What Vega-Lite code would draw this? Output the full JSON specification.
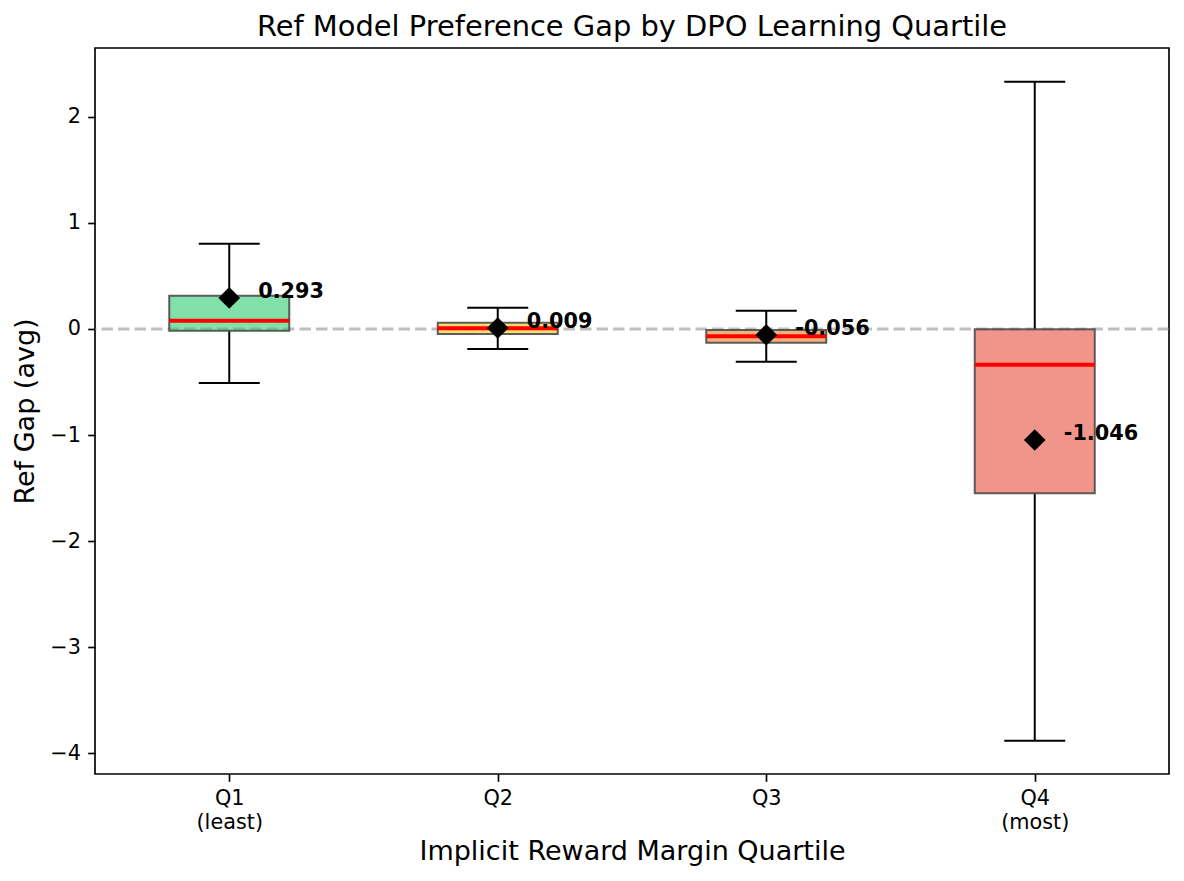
{
  "$schema": "https://vega.github.io/schema/vega-lite/v6.json",
  "autosize": {"type": "none"},
  "padding": {"left": 95, "top": 48, "right": 15, "bottom": 107},
  "width": 1074,
  "height": 726,
  "title": {
    "text": "Ref Model Preference Gap by DPO Learning Quartile",
    "fontSize": 28.9,
    "fontWeight": "normal",
    "color": "black",
    "anchor": "middle",
    "offset": 6
  },
  "data": {
    "values": [
      {"quartile": 1, "name": "Q1", "lo": -0.509, "q1": -0.017, "med": 0.078, "q3": 0.313, "hi": 0.804, "mean": 0.293, "meanLabel": "0.293"},
      {"quartile": 2, "name": "Q2", "lo": -0.189, "q1": -0.047, "med": 0.007, "q3": 0.059, "hi": 0.2, "mean": 0.009, "meanLabel": "0.009"},
      {"quartile": 3, "name": "Q3", "lo": -0.308, "q1": -0.129, "med": -0.069, "q3": -0.009, "hi": 0.172, "mean": -0.056, "meanLabel": "-0.056"},
      {"quartile": 4, "name": "Q4", "lo": -3.88, "q1": -1.549, "med": -0.336, "q3": -0.003, "hi": 2.33, "mean": -1.046, "meanLabel": "-1.046"}
    ]
  },
  "encoding": {
    "x": {
      "field": "quartile",
      "type": "quantitative",
      "scale": {"domain": [0.5, 4.5], "nice": false, "zero": false, "padding": 0},
      "axis": {
        "title": "Implicit Reward Margin Quartile",
        "values": [1, 2, 3, 4],
        "labelExpr": "datum.value == 1 ? ['Q1', '(least)'] : datum.value == 4 ? ['Q4', '(most)'] : 'Q' + datum.value",
        "labelLineHeight": 24,
        "labelBaseline": "top",
        "labelPadding": 7,
        "titlePadding": 6
      }
    }
  },
  "layer": [
    {
      "data": {"values": [{"ref": 0}]},
      "mark": {"type": "rule", "color": "gray", "opacity": 0.5, "strokeWidth": 3, "strokeDash": [11.5, 5]},
      "encoding": {
        "x": null,
        "y": {"field": "ref", "type": "quantitative"}
      }
    },
    {
      "mark": {"type": "rule", "color": "black", "strokeWidth": 2},
      "encoding": {
        "y": {
          "field": "lo",
          "type": "quantitative",
          "scale": {"domain": [-4.194, 2.648], "nice": false, "zero": false},
          "axis": {
            "title": "Ref Gap (avg)",
            "values": [-4, -3, -2, -1, 0, 1, 2],
            "format": "d",
            "titlePadding": 10
          }
        },
        "y2": {"field": "q1"}
      }
    },
    {
      "mark": {"type": "rule", "color": "black", "strokeWidth": 2},
      "encoding": {
        "y": {"field": "q3", "type": "quantitative"},
        "y2": {"field": "hi"}
      }
    },
    {
      "mark": {"type": "tick", "orient": "horizontal", "color": "black", "size": 61, "thickness": 2, "opacity": 1},
      "encoding": {"y": {"field": "lo", "type": "quantitative"}}
    },
    {
      "mark": {"type": "tick", "orient": "horizontal", "color": "black", "size": 61, "thickness": 2, "opacity": 1},
      "encoding": {"y": {"field": "hi", "type": "quantitative"}}
    },
    {
      "mark": {"type": "bar", "size": 120, "fillOpacity": 0.6, "stroke": "#4d4d4d", "strokeOpacity": 0.9, "strokeWidth": 2},
      "encoding": {
        "y": {"field": "q1", "type": "quantitative"},
        "y2": {"field": "q3"},
        "color": {
          "field": "name",
          "type": "nominal",
          "scale": {"domain": ["Q1", "Q2", "Q3", "Q4"], "range": ["#2ecc71", "#f1c40f", "#e67e22", "#e74c3c"]},
          "legend": null
        }
      }
    },
    {
      "mark": {"type": "tick", "orient": "horizontal", "color": "red", "size": 120, "thickness": 4, "opacity": 1},
      "encoding": {"y": {"field": "med", "type": "quantitative"}}
    },
    {
      "mark": {"type": "point", "shape": "diamond", "filled": true, "color": "black", "size": 470, "opacity": 1},
      "encoding": {"y": {"field": "mean", "type": "quantitative"}}
    },
    {
      "mark": {"type": "text", "align": "left", "baseline": "alphabetic", "dx": 29, "fontSize": 20.8, "fontWeight": "bold", "color": "black"},
      "encoding": {
        "y": {"field": "mean", "type": "quantitative"},
        "text": {"field": "meanLabel", "type": "nominal"}
      }
    }
  ],
  "config": {
    "font": "DejaVu Sans",
    "view": {"stroke": "black", "strokeWidth": 1.67},
    "axis": {
      "grid": false,
      "domain": false,
      "ticks": true,
      "tickSize": 7.3,
      "tickWidth": 1.67,
      "tickColor": "black",
      "labelFontSize": 20.8,
      "labelColor": "black",
      "labelPadding": 7.3,
      "titleFontSize": 27,
      "titleFontWeight": "normal",
      "titleColor": "black"
    }
  }
}
